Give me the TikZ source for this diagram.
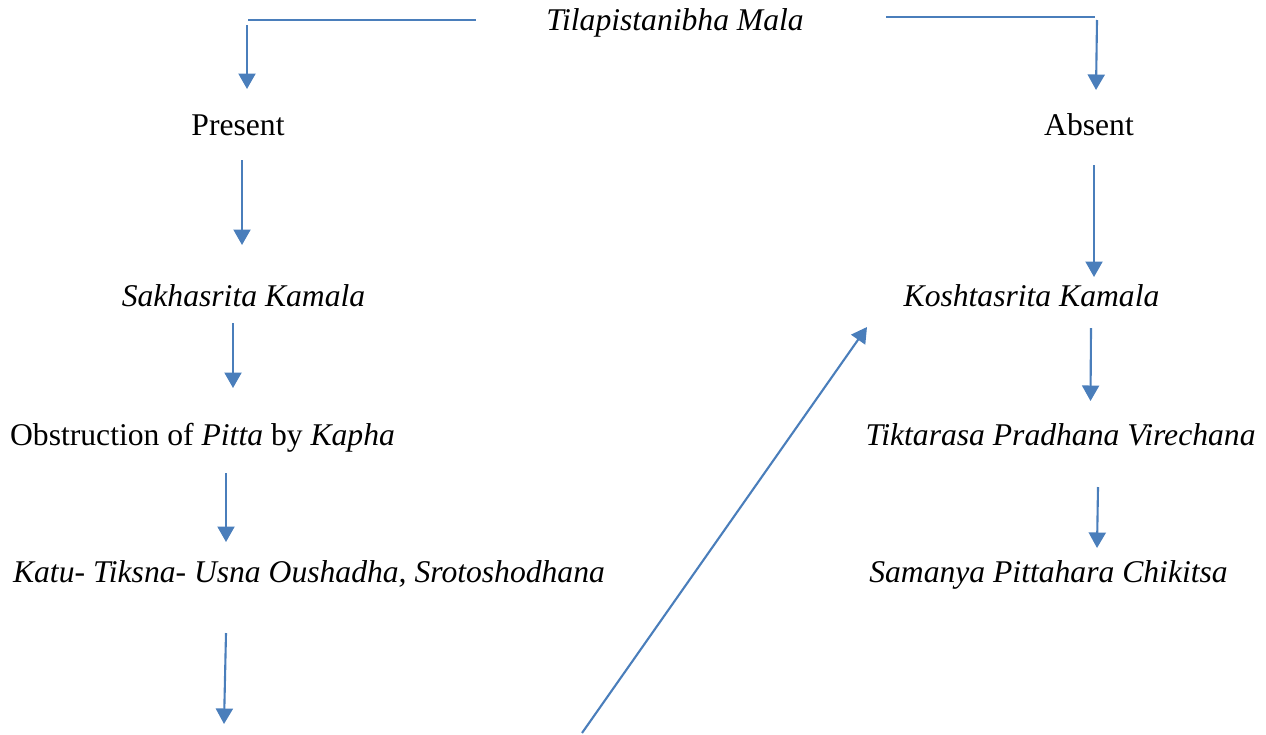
\documentclass[tikz,border=0pt]{standalone}
\usepackage{fontspec}
\setmainfont{Liberation Serif}
\usepackage{xcolor}
\usetikzlibrary{arrows.meta}
\definecolor{LineBlue}{RGB}{74,126,187}

\begin{document}
\begin{tikzpicture}[x=0.02cm, y=-0.02cm, >={Triangle[width=0.34cm, length=0.31cm]},
  lbl/.style={anchor=base, inner sep=0pt, font=\fontsize{18}{21}\selectfont},
  conn/.style={draw=LineBlue, line width=1.2pt}]
  \useasboundingbox (0,0) rectangle (1266,734);
  % labels
  \node[lbl] (mala) at (675,30) {\textit{Tilapistanibha Mala}};
  \node[lbl] (present) at (238,135) {Present};
  \node[lbl] (absent) at (1089,135) {Absent};
  \node[lbl] (sakha) at (243.5,306) {\textit{Sakhasrita Kamala}};
  \node[lbl] (koshta) at (1031.5,306) {\textit{Koshtasrita Kamala}};
  \node[lbl] (obstr) at (202.5,445) {Obstruction of \textit{Pitta} by \textit{Kapha}};
  \node[lbl] (tikta) at (1060.5,445) {\textit{Tiktarasa Pradhana Virechana}};
  \node[lbl] (katu) at (309,582) {\textit{Katu- Tiksna- Usna Oushadha, Srotoshodhana}};
  \node[lbl] (samanya) at (1048.5,582) {\textit{Samanya Pittahara Chikitsa}};
  % arrow ends
  \coordinate (l1a) at (248,20);   \coordinate (l1b) at (476,20);
  \coordinate (a1a) at (247,25);   \coordinate (a1b) at (247,89);
  \coordinate (r1a) at (886,17);   \coordinate (r1b) at (1095,17);
  \coordinate (b1a) at (1097,20);  \coordinate (b1b) at (1096,90);
  \coordinate (a2a) at (242,160);  \coordinate (a2b) at (242,245);
  \coordinate (b2a) at (1094,165); \coordinate (b2b) at (1094,277);
  \coordinate (a3a) at (233,323);  \coordinate (a3b) at (233,388);
  \coordinate (b3a) at (1091,328); \coordinate (b3b) at (1090.5,401);
  \coordinate (a4a) at (226,473);  \coordinate (a4b) at (226,542);
  \coordinate (b4a) at (1098,487); \coordinate (b4b) at (1097,548);
  \coordinate (a5a) at (226,633);  \coordinate (a5b) at (224,724);
  \coordinate (diag) at (582,733); \coordinate (diagb) at (867,327);
  % connectors
  \draw[conn] (l1a) -- (l1b);
  \draw[conn, ->] (a1a) -- (a1b);
  \draw[conn] (r1a) -- (r1b);
  \draw[conn, ->] (b1a) -- (b1b);
  \draw[conn, ->] (a2a) -- (a2b);
  \draw[conn, ->] (b2a) -- (b2b);
  \draw[conn, ->] (a3a) -- (a3b);
  \draw[conn, ->] (b3a) -- (b3b);
  \draw[conn, ->] (a4a) -- (a4b);
  \draw[conn, ->] (b4a) -- (b4b);
  \draw[conn, ->] (a5a) -- (a5b);
  \draw[conn, ->] (diag) -- (diagb);
\end{tikzpicture}
\end{document}
